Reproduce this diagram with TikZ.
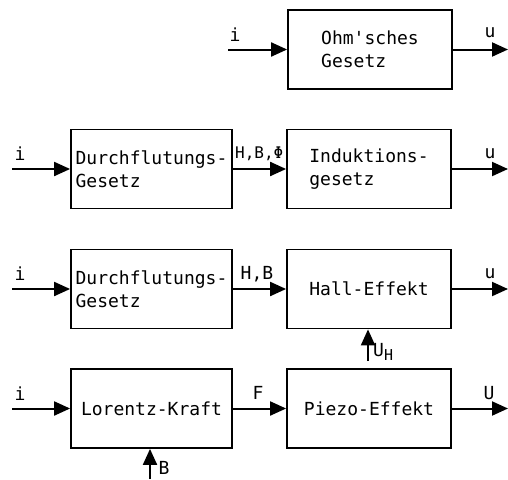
\documentclass[tikz,border=0pt]{standalone}
\usepackage{fontspec}
\setmainfont{DejaVu Sans Mono}
\usepackage{tikz}
\usetikzlibrary{arrows.meta}

\begin{document}
\begin{tikzpicture}[x=1pt,y=-1pt,
  block/.style={draw,line width=1.8pt,minimum height=79pt,align=left,inner sep=2pt},
  sig/.style={line width=2pt,-{Triangle[length=16pt,width=14pt]}},
  lbl/.style={inner sep=0pt}]
\fontsize{18}{23}\selectfont
\useasboundingbox (0,0) rectangle (508,479);

% blocks
\node[block,minimum width=164pt] (ohm) at (370,49.5) {Ohm\textquotesingle sches\\Gesetz};
\node[block,minimum width=161pt] (df1) at (151.5,169) {Durchflutungs-\\Gesetz};
\node[block,minimum width=164pt] (ind) at (369,169) {Induktions-\\gesetz};
\node[block,minimum width=161pt] (df2) at (151.5,289) {Durchflutungs-\\Gesetz};
\node[block,minimum width=164pt] (hall) at (369,289) {Hall-Effekt};
\node[block,minimum width=161pt] (lor) at (151.5,408.5) {Lorentz-Kraft};
\node[block,minimum width=164pt] (pie) at (369,408.5) {Piezo-Effekt};

% free ends
\coordinate (in1) at (228,49.5);
\coordinate (out1) at (508,49.5);
\coordinate (in2) at (12,169);
\coordinate (out2) at (508,169);
\coordinate (in3) at (12,289);
\coordinate (out3) at (508,289);
\coordinate (in4) at (12,408.5);
\coordinate (out4) at (508,408.5);
\coordinate (uh) at (368,361);
\coordinate (bfeld) at (150,479);

% signals
\draw[sig] (in1) -- (ohm.west);
\draw[sig] (ohm.east) -- (out1);
\draw[sig] (in2) -- (df1.west);
\draw[sig] (df1.east) -- (ind.west);
\draw[sig] (ind.east) -- (out2);
\draw[sig] (in3) -- (df2.west);
\draw[sig] (df2.east) -- (hall.west);
\draw[sig] (hall.east) -- (out3);
\draw[sig] (in4) -- (lor.west);
\draw[sig] (lor.east) -- (pie.west);
\draw[sig] (pie.east) -- (out4);
\draw[sig] (uh) -- (uh |- hall.south);
\draw[sig] (bfeld) -- (bfeld |- lor.south);

% labels
\node[lbl] (li1) at (235,35) {i};
\node[lbl] (lu1) at (490,33) {u};
\node[lbl] (li2) at (20,154) {i};
\node[lbl,anchor=west,font=\fontsize{16}{16}\selectfont] (lhbp) at (235,154) {H,B,Φ};
\node[lbl] (lu2) at (490,154) {u};
\node[lbl] (li3) at (20,274) {i};
\node[lbl] (lhb) at (257,274) {H,B};
\node[lbl] (lu3) at (490,274) {u};
\node[lbl,anchor=west] (luh) at (373,352) {U\raisebox{-4pt}{\fontsize{15}{15}\selectfont H}};
\node[lbl] (li4) at (20,394) {i};
\node[lbl] (lf) at (258,393) {F};
\node[lbl] (lu4) at (489,393) {U};
\node[lbl] (lb) at (164,468) {B};

\end{tikzpicture}
\end{document}
